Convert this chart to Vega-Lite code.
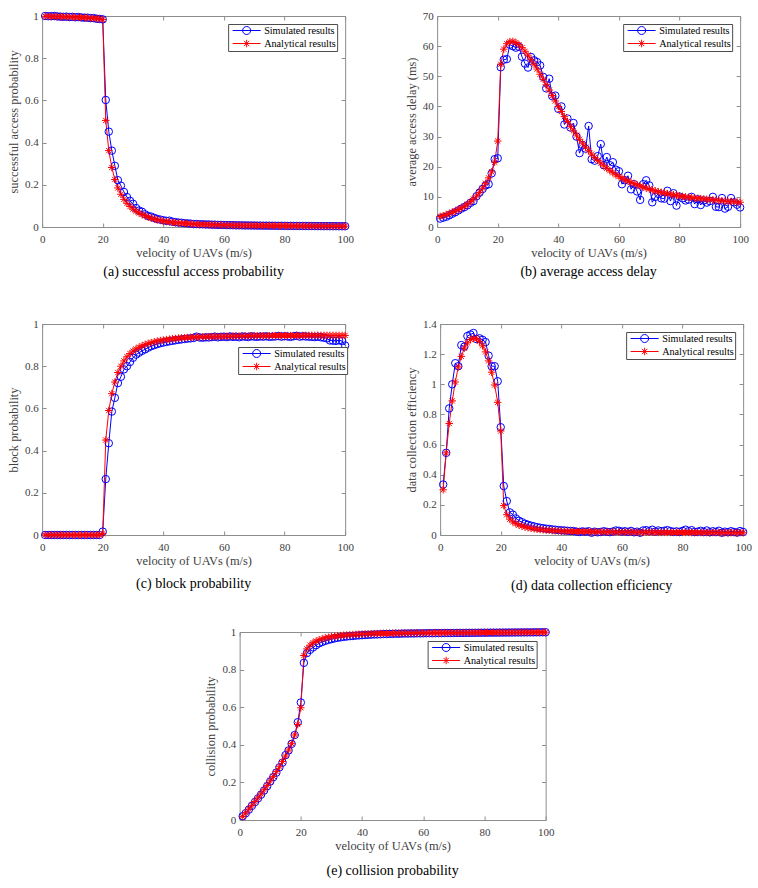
{
"$schema": "https://vega.github.io/schema/vega-lite/v6.json",
"padding": {"left": 6, "top": 9, "right": 5, "bottom": 5},
"config": {
  "font": "Liberation Serif, Times New Roman, Times, DejaVu Serif, serif",
  "view": {"stroke": "#8c8c8c", "strokeWidth": 1},
  "axis": {"grid": false, "domain": false, "tickColor": "#8c8c8c", "tickSize": -4, "tickWidth": 1, "labelFont": "Liberation Serif, Times New Roman, Times, DejaVu Serif, serif", "labelFontSize": 11, "labelColor": "#404040", "titleFont": "Liberation Serif, Times New Roman, Times, DejaVu Serif, serif", "titleFontSize": 12.4, "titleFontWeight": "normal", "titleColor": "#404040", "labelFlush": false, "labelOverlap": false},
  "axisX": {"labelPadding": 10, "titlePadding": 2},
  "axisY": {"labelPadding": 8, "titlePadding": 4},
  "legend": {"labelFont": "Liberation Serif, Times New Roman, Times, DejaVu Serif, serif", "labelFontSize": 10.2, "labelColor": "#000000", "strokeColor": "#4d4d4d", "fillColor": "#ffffff", "padding": 1, "symbolSize": 100, "symbolStrokeWidth": 1, "symbolOpacity": 1, "symbolOffset": 12, "labelOffset": 12, "rowPadding": 0, "cornerRadius": 0},
  "title": {"font": "Liberation Serif, Times New Roman, Times, DejaVu Serif, serif", "fontSize": 14, "fontWeight": "normal", "color": "#000000", "anchor": "middle", "frame": "group", "orient": "bottom"}
},
"datasets": {
"a": [{"v":1,"S":1,"A":0.999},{"v":2,"S":0.999,"A":0.999},{"v":3,"S":0.999,"A":0.998},{"v":4,"S":1,"A":0.998},{"v":5,"S":0.998,"A":0.997},{"v":6,"S":0.997,"A":0.997},{"v":7,"S":0.996,"A":0.996},{"v":8,"S":0.997,"A":0.996},{"v":9,"S":0.995,"A":0.995},{"v":10,"S":0.996,"A":0.995},{"v":11,"S":0.994,"A":0.994},{"v":12,"S":0.995,"A":0.994},{"v":13,"S":0.993,"A":0.993},{"v":14,"S":0.992,"A":0.992},{"v":15,"S":0.992,"A":0.991},{"v":16,"S":0.99,"A":0.99},{"v":17,"S":0.99,"A":0.989},{"v":18,"S":0.987,"A":0.988},{"v":19,"S":0.986,"A":0.986},{"v":20,"S":0.984,"A":0.983},{"v":21,"S":0.602,"A":0.505},{"v":22,"S":0.452,"A":0.362},{"v":23,"S":0.362,"A":0.282},{"v":24,"S":0.29,"A":0.225},{"v":25,"S":0.222,"A":0.185},{"v":26,"S":0.196,"A":0.155},{"v":27,"S":0.166,"A":0.131},{"v":28,"S":0.142,"A":0.112},{"v":29,"S":0.124,"A":0.097},{"v":30,"S":0.11,"A":0.085},{"v":31,"S":0.09,"A":0.075},{"v":32,"S":0.078,"A":0.066},{"v":33,"S":0.072,"A":0.059},{"v":34,"S":0.06,"A":0.053},{"v":35,"S":0.052,"A":0.047},{"v":36,"S":0.049,"A":0.042},{"v":37,"S":0.043,"A":0.038},{"v":38,"S":0.038,"A":0.034},{"v":39,"S":0.035,"A":0.031},{"v":40,"S":0.032,"A":0.028},{"v":41,"S":0.029,"A":0.026},{"v":42,"S":0.03,"A":0.024},{"v":43,"S":0.025,"A":0.022},{"v":44,"S":0.023,"A":0.02},{"v":45,"S":0.021,"A":0.019},{"v":46,"S":0.02,"A":0.018},{"v":47,"S":0.018,"A":0.017},{"v":48,"S":0.017,"A":0.016},{"v":49,"S":0.016,"A":0.015},{"v":50,"S":0.014,"A":0.014},{"v":51,"S":0.014,"A":0.013},{"v":52,"S":0.013,"A":0.0125},{"v":53,"S":0.013,"A":0.012},{"v":54,"S":0.012,"A":0.0115},{"v":55,"S":0.012,"A":0.011},{"v":56,"S":0.011,"A":0.0106},{"v":57,"S":0.011,"A":0.0102},{"v":58,"S":0.01,"A":0.0098},{"v":59,"S":0.01,"A":0.0095},{"v":60,"S":0.0095,"A":0.0092},{"v":61,"S":0.009,"A":0.0089},{"v":62,"S":0.0088,"A":0.0086},{"v":63,"S":0.0085,"A":0.0083},{"v":64,"S":0.008,"A":0.0081},{"v":65,"S":0.008,"A":0.0078},{"v":66,"S":0.0078,"A":0.0076},{"v":67,"S":0.0075,"A":0.0074},{"v":68,"S":0.0074,"A":0.0072},{"v":69,"S":0.007,"A":0.007},{"v":70,"S":0.007,"A":0.0068},{"v":71,"S":0.0067,"A":0.0066},{"v":72,"S":0.0066,"A":0.0065},{"v":73,"S":0.0062,"A":0.0063},{"v":74,"S":0.0063,"A":0.0062},{"v":75,"S":0.006,"A":0.006},{"v":76,"S":0.006,"A":0.0059},{"v":77,"S":0.0058,"A":0.0058},{"v":78,"S":0.0055,"A":0.0056},{"v":79,"S":0.0056,"A":0.0055},{"v":80,"S":0.0054,"A":0.0054},{"v":81,"S":0.0052,"A":0.0053},{"v":82,"S":0.0053,"A":0.0052},{"v":83,"S":0.005,"A":0.0051},{"v":84,"S":0.0051,"A":0.005},{"v":85,"S":0.0048,"A":0.0049},{"v":86,"S":0.0049,"A":0.0048},{"v":87,"S":0.0047,"A":0.0047},{"v":88,"S":0.0045,"A":0.0046},{"v":89,"S":0.0046,"A":0.0045},{"v":90,"S":0.0044,"A":0.0044},{"v":91,"S":0.0042,"A":0.0043},{"v":92,"S":0.0044,"A":0.0043},{"v":93,"S":0.0041,"A":0.0042},{"v":94,"S":0.0042,"A":0.0041},{"v":95,"S":0.004,"A":0.004},{"v":96,"S":0.0039,"A":0.004},{"v":97,"S":0.004,"A":0.0039},{"v":98,"S":0.0037,"A":0.0038},{"v":99,"S":0.0038,"A":0.0038},{"v":100,"S":0.0036,"A":0.0037}],
"b": [{"v":1,"S":2.8,"A":3.5},{"v":2,"S":3.1,"A":3.8},{"v":3,"S":3.4,"A":4.1},{"v":4,"S":3.9,"A":4.5},{"v":5,"S":4.4,"A":4.9},{"v":6,"S":4.9,"A":5.3},{"v":7,"S":5.5,"A":5.8},{"v":8,"S":6.1,"A":6.3},{"v":9,"S":6.6,"A":6.9},{"v":10,"S":7.2,"A":7.6},{"v":11,"S":8.0,"A":8.4},{"v":12,"S":8.6,"A":9.3},{"v":13,"S":10.2,"A":10.3},{"v":14,"S":11.4,"A":11.5},{"v":15,"S":12.6,"A":12.9},{"v":16,"S":13.8,"A":14.5},{"v":17,"S":14.2,"A":16.3},{"v":18,"S":17.8,"A":18.3},{"v":19,"S":22.5,"A":21.5},{"v":20,"S":22.8,"A":28.5},{"v":21,"S":53,"A":54},{"v":22,"S":55.5,"A":59},{"v":23,"S":55.7,"A":60.8},{"v":24,"S":60.5,"A":61.5},{"v":25,"S":60,"A":61.6},{"v":26,"S":59.5,"A":61.2},{"v":27,"S":59.8,"A":60.5},{"v":28,"S":56.5,"A":59.5},{"v":29,"S":54.2,"A":58.3},{"v":30,"S":52.9,"A":57},{"v":31,"S":56.4,"A":55.5},{"v":32,"S":55.3,"A":54},{"v":33,"S":54.7,"A":52.4},{"v":34,"S":53.6,"A":50.7},{"v":35,"S":49.8,"A":49},{"v":36,"S":46,"A":47.2},{"v":37,"S":49.2,"A":45.4},{"v":38,"S":43.4,"A":43.6},{"v":39,"S":43.6,"A":41.8},{"v":40,"S":39.2,"A":40},{"v":41,"S":40,"A":38.3},{"v":42,"S":34,"A":36.6},{"v":43,"S":36,"A":35},{"v":44,"S":33,"A":33.4},{"v":45,"S":34.5,"A":31.9},{"v":46,"S":30,"A":30.5},{"v":47,"S":24.5,"A":29.1},{"v":48,"S":27.2,"A":27.8},{"v":49,"S":26,"A":26.5},{"v":50,"S":33.5,"A":25.3},{"v":51,"S":22.5,"A":24.2},{"v":52,"S":22,"A":23.1},{"v":53,"S":23.5,"A":22.1},{"v":54,"S":27.5,"A":21.2},{"v":55,"S":20.5,"A":20.3},{"v":56,"S":23.2,"A":19.5},{"v":57,"S":20.5,"A":18.7},{"v":58,"S":21.5,"A":18},{"v":59,"S":19,"A":17.3},{"v":60,"S":18.5,"A":16.7},{"v":61,"S":14.2,"A":16.2},{"v":62,"S":15.5,"A":15.7},{"v":63,"S":17,"A":15.2},{"v":64,"S":12.5,"A":14.8},{"v":65,"S":14.2,"A":14.4},{"v":66,"S":11.8,"A":14},{"v":67,"S":9,"A":13.6},{"v":68,"S":14.2,"A":13.2},{"v":69,"S":15.5,"A":12.9},{"v":70,"S":13.8,"A":12.6},{"v":71,"S":8.2,"A":12.3},{"v":72,"S":10,"A":12},{"v":73,"S":11,"A":11.7},{"v":74,"S":9.5,"A":11.5},{"v":75,"S":9.4,"A":11.3},{"v":76,"S":12,"A":11.1},{"v":77,"S":8.6,"A":10.9},{"v":78,"S":11.2,"A":10.7},{"v":79,"S":7.1,"A":10.5},{"v":80,"S":10.1,"A":10.3},{"v":81,"S":9.5,"A":10.15},{"v":82,"S":8.8,"A":10},{"v":83,"S":9.1,"A":9.85},{"v":84,"S":10,"A":9.7},{"v":85,"S":7.6,"A":9.6},{"v":86,"S":9.2,"A":9.5},{"v":87,"S":7.3,"A":9.4},{"v":88,"S":8.8,"A":9.3},{"v":89,"S":8.1,"A":9.2},{"v":90,"S":8.6,"A":9.1},{"v":91,"S":10,"A":9},{"v":92,"S":6.7,"A":8.9},{"v":93,"S":6.6,"A":8.8},{"v":94,"S":9.6,"A":8.7},{"v":95,"S":6.1,"A":8.6},{"v":96,"S":6.7,"A":8.5},{"v":97,"S":9.6,"A":8.45},{"v":98,"S":8.2,"A":8.4},{"v":99,"S":7.4,"A":8.3},{"v":100,"S":6.5,"A":8.2}],
"c": [{"v":1,"S":0,"A":0},{"v":2,"S":0,"A":0},{"v":3,"S":0,"A":0},{"v":4,"S":0,"A":0},{"v":5,"S":0,"A":0},{"v":6,"S":0,"A":0},{"v":7,"S":0,"A":0},{"v":8,"S":0,"A":0},{"v":9,"S":0,"A":0},{"v":10,"S":0,"A":0},{"v":11,"S":0,"A":0},{"v":12,"S":0,"A":0},{"v":13,"S":0,"A":0},{"v":14,"S":0,"A":0},{"v":15,"S":0,"A":0},{"v":16,"S":0,"A":0},{"v":17,"S":0,"A":0},{"v":18,"S":0,"A":0},{"v":19,"S":0,"A":0.001},{"v":20,"S":0.016,"A":0.006},{"v":21,"S":0.265,"A":0.45},{"v":22,"S":0.435,"A":0.59},{"v":23,"S":0.585,"A":0.67},{"v":24,"S":0.65,"A":0.725},{"v":25,"S":0.72,"A":0.77},{"v":26,"S":0.75,"A":0.8},{"v":27,"S":0.785,"A":0.825},{"v":28,"S":0.8,"A":0.845},{"v":29,"S":0.82,"A":0.86},{"v":30,"S":0.84,"A":0.872},{"v":31,"S":0.855,"A":0.882},{"v":32,"S":0.864,"A":0.89},{"v":33,"S":0.873,"A":0.897},{"v":34,"S":0.88,"A":0.903},{"v":35,"S":0.888,"A":0.908},{"v":36,"S":0.895,"A":0.912},{"v":37,"S":0.9,"A":0.916},{"v":38,"S":0.905,"A":0.919},{"v":39,"S":0.909,"A":0.922},{"v":40,"S":0.912,"A":0.924},{"v":41,"S":0.915,"A":0.926},{"v":42,"S":0.918,"A":0.928},{"v":43,"S":0.92,"A":0.93},{"v":44,"S":0.923,"A":0.931},{"v":45,"S":0.925,"A":0.933},{"v":46,"S":0.927,"A":0.934},{"v":47,"S":0.929,"A":0.935},{"v":48,"S":0.931,"A":0.936},{"v":49,"S":0.932,"A":0.937},{"v":50,"S":0.934,"A":0.938},{"v":51,"S":0.94,"A":0.938},{"v":52,"S":0.936,"A":0.939},{"v":53,"S":0.935,"A":0.939},{"v":54,"S":0.937,"A":0.94},{"v":55,"S":0.936,"A":0.94},{"v":56,"S":0.938,"A":0.94},{"v":57,"S":0.94,"A":0.941},{"v":58,"S":0.937,"A":0.941},{"v":59,"S":0.939,"A":0.941},{"v":60,"S":0.94,"A":0.941},{"v":61,"S":0.938,"A":0.942},{"v":62,"S":0.941,"A":0.942},{"v":63,"S":0.939,"A":0.942},{"v":64,"S":0.94,"A":0.943},{"v":65,"S":0.937,"A":0.943},{"v":66,"S":0.941,"A":0.943},{"v":67,"S":0.94,"A":0.943},{"v":68,"S":0.938,"A":0.943},{"v":69,"S":0.942,"A":0.944},{"v":70,"S":0.94,"A":0.944},{"v":71,"S":0.939,"A":0.944},{"v":72,"S":0.941,"A":0.944},{"v":73,"S":0.94,"A":0.944},{"v":74,"S":0.942,"A":0.944},{"v":75,"S":0.939,"A":0.944},{"v":76,"S":0.94,"A":0.945},{"v":77,"S":0.941,"A":0.945},{"v":78,"S":0.943,"A":0.945},{"v":79,"S":0.94,"A":0.945},{"v":80,"S":0.942,"A":0.945},{"v":81,"S":0.941,"A":0.945},{"v":82,"S":0.939,"A":0.945},{"v":83,"S":0.942,"A":0.945},{"v":84,"S":0.944,"A":0.945},{"v":85,"S":0.94,"A":0.945},{"v":86,"S":0.942,"A":0.946},{"v":87,"S":0.941,"A":0.946},{"v":88,"S":0.94,"A":0.946},{"v":89,"S":0.939,"A":0.946},{"v":90,"S":0.938,"A":0.946},{"v":91,"S":0.94,"A":0.946},{"v":92,"S":0.937,"A":0.946},{"v":93,"S":0.935,"A":0.946},{"v":94,"S":0.932,"A":0.946},{"v":95,"S":0.922,"A":0.946},{"v":96,"S":0.921,"A":0.946},{"v":97,"S":0.92,"A":0.946},{"v":98,"S":0.923,"A":0.946},{"v":99,"S":0.919,"A":0.946},{"v":100,"S":0.898,"A":0.946}],
"d": [{"v":1,"S":0.335,"A":0.3},{"v":2,"S":0.545,"A":0.545},{"v":3,"S":0.84,"A":0.74},{"v":4,"S":1.0,"A":0.89},{"v":5,"S":1.14,"A":1.015},{"v":6,"S":1.12,"A":1.115},{"v":7,"S":1.26,"A":1.185},{"v":8,"S":1.25,"A":1.24},{"v":9,"S":1.32,"A":1.275},{"v":10,"S":1.33,"A":1.297},{"v":11,"S":1.34,"A":1.305},{"v":12,"S":1.3,"A":1.302},{"v":13,"S":1.305,"A":1.285},{"v":14,"S":1.295,"A":1.255},{"v":15,"S":1.28,"A":1.215},{"v":16,"S":1.19,"A":1.155},{"v":17,"S":1.12,"A":1.08},{"v":18,"S":1.12,"A":0.995},{"v":19,"S":1.02,"A":0.88},{"v":20,"S":0.715,"A":0.69},{"v":21,"S":0.325,"A":0.195},{"v":22,"S":0.225,"A":0.135},{"v":23,"S":0.15,"A":0.105},{"v":24,"S":0.135,"A":0.087},{"v":25,"S":0.11,"A":0.075},{"v":26,"S":0.095,"A":0.066},{"v":27,"S":0.085,"A":0.059},{"v":28,"S":0.075,"A":0.053},{"v":29,"S":0.068,"A":0.048},{"v":30,"S":0.062,"A":0.044},{"v":31,"S":0.057,"A":0.041},{"v":32,"S":0.052,"A":0.038},{"v":33,"S":0.048,"A":0.036},{"v":34,"S":0.045,"A":0.034},{"v":35,"S":0.042,"A":0.032},{"v":36,"S":0.04,"A":0.031},{"v":37,"S":0.037,"A":0.029},{"v":38,"S":0.035,"A":0.028},{"v":39,"S":0.033,"A":0.027},{"v":40,"S":0.031,"A":0.026},{"v":41,"S":0.03,"A":0.025},{"v":42,"S":0.028,"A":0.025},{"v":43,"S":0.027,"A":0.024},{"v":44,"S":0.026,"A":0.024},{"v":45,"S":0.022,"A":0.023},{"v":46,"S":0.02,"A":0.023},{"v":47,"S":0.024,"A":0.022},{"v":48,"S":0.021,"A":0.022},{"v":49,"S":0.025,"A":0.022},{"v":50,"S":0.015,"A":0.021},{"v":51,"S":0.022,"A":0.021},{"v":52,"S":0.018,"A":0.021},{"v":53,"S":0.02,"A":0.02},{"v":54,"S":0.025,"A":0.02},{"v":55,"S":0.021,"A":0.02},{"v":56,"S":0.019,"A":0.02},{"v":57,"S":0.023,"A":0.02},{"v":58,"S":0.03,"A":0.019},{"v":59,"S":0.028,"A":0.019},{"v":60,"S":0.022,"A":0.019},{"v":61,"S":0.025,"A":0.019},{"v":62,"S":0.02,"A":0.019},{"v":63,"S":0.027,"A":0.019},{"v":64,"S":0.018,"A":0.018},{"v":65,"S":0.022,"A":0.018},{"v":66,"S":0.015,"A":0.018},{"v":67,"S":0.03,"A":0.018},{"v":68,"S":0.032,"A":0.018},{"v":69,"S":0.025,"A":0.018},{"v":70,"S":0.035,"A":0.018},{"v":71,"S":0.022,"A":0.018},{"v":72,"S":0.03,"A":0.017},{"v":73,"S":0.025,"A":0.017},{"v":74,"S":0.028,"A":0.017},{"v":75,"S":0.032,"A":0.017},{"v":76,"S":0.026,"A":0.017},{"v":77,"S":0.021,"A":0.017},{"v":78,"S":0.024,"A":0.017},{"v":79,"S":0.02,"A":0.017},{"v":80,"S":0.027,"A":0.017},{"v":81,"S":0.035,"A":0.017},{"v":82,"S":0.025,"A":0.017},{"v":83,"S":0.032,"A":0.016},{"v":84,"S":0.02,"A":0.016},{"v":85,"S":0.022,"A":0.016},{"v":86,"S":0.028,"A":0.016},{"v":87,"S":0.02,"A":0.016},{"v":88,"S":0.03,"A":0.016},{"v":89,"S":0.018,"A":0.016},{"v":90,"S":0.025,"A":0.016},{"v":91,"S":0.02,"A":0.016},{"v":92,"S":0.028,"A":0.016},{"v":93,"S":0.015,"A":0.015},{"v":94,"S":0.022,"A":0.015},{"v":95,"S":0.018,"A":0.015},{"v":96,"S":0.025,"A":0.015},{"v":97,"S":0.02,"A":0.015},{"v":98,"S":0.016,"A":0.015},{"v":99,"S":0.026,"A":0.015},{"v":100,"S":0.02,"A":0.015}],
"e": [{"v":1,"S":0.02,"A":0.018},{"v":2,"S":0.036,"A":0.038},{"v":3,"S":0.055,"A":0.058},{"v":4,"S":0.075,"A":0.078},{"v":5,"S":0.095,"A":0.098},{"v":6,"S":0.115,"A":0.118},{"v":7,"S":0.135,"A":0.139},{"v":8,"S":0.157,"A":0.161},{"v":9,"S":0.18,"A":0.184},{"v":10,"S":0.205,"A":0.208},{"v":11,"S":0.228,"A":0.232},{"v":12,"S":0.252,"A":0.257},{"v":13,"S":0.28,"A":0.283},{"v":14,"S":0.305,"A":0.311},{"v":15,"S":0.345,"A":0.34},{"v":16,"S":0.37,"A":0.372},{"v":17,"S":0.405,"A":0.406},{"v":18,"S":0.452,"A":0.452},{"v":19,"S":0.52,"A":0.508},{"v":20,"S":0.625,"A":0.597},{"v":21,"S":0.836,"A":0.875},{"v":22,"S":0.888,"A":0.91},{"v":23,"S":0.905,"A":0.93},{"v":24,"S":0.918,"A":0.943},{"v":25,"S":0.93,"A":0.952},{"v":26,"S":0.94,"A":0.959},{"v":27,"S":0.947,"A":0.964},{"v":28,"S":0.953,"A":0.968},{"v":29,"S":0.958,"A":0.972},{"v":30,"S":0.962,"A":0.975},{"v":31,"S":0.966,"A":0.977},{"v":32,"S":0.969,"A":0.979},{"v":33,"S":0.972,"A":0.981},{"v":34,"S":0.974,"A":0.983},{"v":35,"S":0.976,"A":0.984},{"v":36,"S":0.978,"A":0.985},{"v":37,"S":0.979,"A":0.986},{"v":38,"S":0.981,"A":0.987},{"v":39,"S":0.982,"A":0.988},{"v":40,"S":0.983,"A":0.989},{"v":41,"S":0.984,"A":0.9895},{"v":42,"S":0.985,"A":0.99},{"v":43,"S":0.986,"A":0.9905},{"v":44,"S":0.987,"A":0.991},{"v":45,"S":0.987,"A":0.9915},{"v":46,"S":0.988,"A":0.992},{"v":47,"S":0.989,"A":0.9922},{"v":48,"S":0.989,"A":0.9925},{"v":49,"S":0.99,"A":0.9928},{"v":50,"S":0.99,"A":0.993},{"v":51,"S":0.991,"A":0.9933},{"v":52,"S":0.9905,"A":0.9935},{"v":53,"S":0.9915,"A":0.9938},{"v":54,"S":0.992,"A":0.994},{"v":55,"S":0.9918,"A":0.9942},{"v":56,"S":0.9925,"A":0.9944},{"v":57,"S":0.9922,"A":0.9946},{"v":58,"S":0.993,"A":0.9947},{"v":59,"S":0.9928,"A":0.9948},{"v":60,"S":0.9932,"A":0.995},{"v":61,"S":0.9935,"A":0.9951},{"v":62,"S":0.9938,"A":0.9952},{"v":63,"S":0.9936,"A":0.9953},{"v":64,"S":0.994,"A":0.9954},{"v":65,"S":0.9942,"A":0.9955},{"v":66,"S":0.9941,"A":0.9956},{"v":67,"S":0.9945,"A":0.9957},{"v":68,"S":0.9946,"A":0.9958},{"v":69,"S":0.9944,"A":0.9959},{"v":70,"S":0.9948,"A":0.996},{"v":71,"S":0.995,"A":0.9961},{"v":72,"S":0.9952,"A":0.9962},{"v":73,"S":0.9951,"A":0.9963},{"v":74,"S":0.9954,"A":0.9964},{"v":75,"S":0.9955,"A":0.9965},{"v":76,"S":0.9957,"A":0.9966},{"v":77,"S":0.9956,"A":0.9967},{"v":78,"S":0.9959,"A":0.9968},{"v":79,"S":0.996,"A":0.9969},{"v":80,"S":0.9962,"A":0.997},{"v":81,"S":0.9963,"A":0.9971},{"v":82,"S":0.9964,"A":0.9972},{"v":83,"S":0.9966,"A":0.9973},{"v":84,"S":0.9965,"A":0.9974},{"v":85,"S":0.9968,"A":0.9975},{"v":86,"S":0.9969,"A":0.9976},{"v":87,"S":0.997,"A":0.9977},{"v":88,"S":0.9972,"A":0.9978},{"v":89,"S":0.9973,"A":0.9979},{"v":90,"S":0.9974,"A":0.998},{"v":91,"S":0.9976,"A":0.9981},{"v":92,"S":0.9977,"A":0.9982},{"v":93,"S":0.9978,"A":0.9983},{"v":94,"S":0.998,"A":0.9984},{"v":95,"S":0.9981,"A":0.9985},{"v":96,"S":0.9982,"A":0.9986},{"v":97,"S":0.9984,"A":0.9987},{"v":98,"S":0.9985,"A":0.9988},{"v":99,"S":0.9986,"A":0.9989},{"v":100,"S":0.9988,"A":0.999}]
},
"vconcat": [
 {"vconcat": [
 {"hconcat": [
  {"width": 303, "height": 211, "data": {"name": "a"},
   "transform": [{"fold": ["S", "A"], "as": ["series", "val"]}],
   "title": {"text": "(a) successful access probability", "offset": 7},
   "resolve": {"scale": {"color": "independent", "shape": "independent"}, "legend": {"color": "independent", "shape": "independent"}},
   "layer": [
    {"mark": {"type": "line", "strokeWidth": 1},
     "encoding": {
      "x": {"field": "v", "type": "quantitative", "scale": {"domain": [0, 100], "nice": false, "zero": false}, "axis": {"orient": "bottom", "title": "velocity of UAVs (m/s)", "values": [0, 20, 40, 60, 80, 100]}},
      "y": {"field": "val", "type": "quantitative", "scale": {"domain": [0, 1], "nice": false}, "axis": {"orient": "left", "title": "successful access probability", "values": [0, 0.2, 0.4, 0.6, 0.8, 1], "format": "~f"}},
      "color": {"field": "series", "type": "nominal", "scale": {"domain": ["S", "A"], "range": ["#0000ff", "#ff0000"]}, "legend": null}}},
    {"mark": {"type": "point", "filled": false, "size": 56, "strokeWidth": 1, "opacity": 1},
     "encoding": {
      "x": {"field": "v", "type": "quantitative", "axis": null},
      "y": {"field": "val", "type": "quantitative", "axis": null},
      "color": {"field": "series", "type": "nominal", "scale": {"domain": ["S", "A"], "range": ["#0000ff", "#ff0000"]}, "legend": null},
      "shape": {"field": "series", "type": "nominal", "scale": {"domain": ["S", "A"], "range": ["circle", "M-1,0L1,0M0,-1L0,1M-0.7,-0.7L0.7,0.7M-0.7,0.7L0.7,-0.7"]}, "legend": null},
      "order": {"field": "series", "sort": "descending"}}},
    {"mark": {"type": "point", "opacity": 0},
     "encoding": {
      "x": {"field": "v", "type": "quantitative", "axis": {"orient": "top", "title": null, "labels": false, "values": [0, 20, 40, 60, 80, 100]}},
      "y": {"field": "val", "type": "quantitative", "axis": {"orient": "right", "title": null, "labels": false, "values": [0, 0.2, 0.4, 0.6, 0.8, 1]}}}},
    {"mark": {"type": "point", "filled": false, "opacity": 0},
     "encoding": {
      "x": {"field": "v", "type": "quantitative", "axis": null},
      "y": {"field": "val", "type": "quantitative", "axis": null},
      "color": {"field": "series", "type": "nominal", "scale": {"domain": ["S", "A"], "range": ["#0000ff", "#ff0000"]}, "legend": {"title": null, "orient": "top-right", "offset": 8, "labelExpr": "datum.value === 'S' ? 'Simulated results' : 'Analytical results'"}},
      "shape": {"field": "series", "type": "nominal", "scale": {"domain": ["S", "A"], "range": ["M-2.8,0L2.8,0M-0.8,0A0.8,0.8 0 1,1 0.8,0A0.8,0.8 0 1,1 -0.8,0", "M-2.8,0L2.8,0M0,-0.75L0,0.75M-0.53,-0.53L0.53,0.53M-0.53,0.53L0.53,-0.53"]}, "legend": {"title": null, "orient": "top-right", "offset": 8, "labelExpr": "datum.value === 'S' ? 'Simulated results' : 'Analytical results'"}}}}
   ]},
  {"width": 303, "height": 211, "data": {"name": "b"},
   "transform": [{"fold": ["S", "A"], "as": ["series", "val"]}],
   "title": {"text": "(b) average access delay", "offset": 7},
   "resolve": {"scale": {"color": "independent", "shape": "independent"}, "legend": {"color": "independent", "shape": "independent"}},
   "layer": [
    {"mark": {"type": "line", "strokeWidth": 1},
     "encoding": {
      "x": {"field": "v", "type": "quantitative", "scale": {"domain": [0, 100], "nice": false, "zero": false}, "axis": {"orient": "bottom", "title": "velocity of UAVs (m/s)", "values": [0, 20, 40, 60, 80, 100]}},
      "y": {"field": "val", "type": "quantitative", "scale": {"domain": [0, 70], "nice": false}, "axis": {"orient": "left", "title": "average access delay (ms)", "values": [0, 10, 20, 30, 40, 50, 60, 70], "format": "~f"}},
      "color": {"field": "series", "type": "nominal", "scale": {"domain": ["S", "A"], "range": ["#0000ff", "#ff0000"]}, "legend": null}}},
    {"mark": {"type": "point", "filled": false, "size": 56, "strokeWidth": 1, "opacity": 1},
     "encoding": {
      "x": {"field": "v", "type": "quantitative", "axis": null},
      "y": {"field": "val", "type": "quantitative", "axis": null},
      "color": {"field": "series", "type": "nominal", "scale": {"domain": ["S", "A"], "range": ["#0000ff", "#ff0000"]}, "legend": null},
      "shape": {"field": "series", "type": "nominal", "scale": {"domain": ["S", "A"], "range": ["circle", "M-1,0L1,0M0,-1L0,1M-0.7,-0.7L0.7,0.7M-0.7,0.7L0.7,-0.7"]}, "legend": null},
      "order": {"field": "series", "sort": "descending"}}},
    {"mark": {"type": "point", "opacity": 0},
     "encoding": {
      "x": {"field": "v", "type": "quantitative", "axis": {"orient": "top", "title": null, "labels": false, "values": [0, 20, 40, 60, 80, 100]}},
      "y": {"field": "val", "type": "quantitative", "axis": {"orient": "right", "title": null, "labels": false, "values": [0, 10, 20, 30, 40, 50, 60, 70]}}}},
    {"mark": {"type": "point", "filled": false, "opacity": 0},
     "encoding": {
      "x": {"field": "v", "type": "quantitative", "axis": null},
      "y": {"field": "val", "type": "quantitative", "axis": null},
      "color": {"field": "series", "type": "nominal", "scale": {"domain": ["S", "A"], "range": ["#0000ff", "#ff0000"]}, "legend": {"title": null, "orient": "top-right", "offset": 8, "labelExpr": "datum.value === 'S' ? 'Simulated results' : 'Analytical results'"}},
      "shape": {"field": "series", "type": "nominal", "scale": {"domain": ["S", "A"], "range": ["M-2.8,0L2.8,0M-0.8,0A0.8,0.8 0 1,1 0.8,0A0.8,0.8 0 1,1 -0.8,0", "M-2.8,0L2.8,0M0,-0.75L0,0.75M-0.53,-0.53L0.53,0.53M-0.53,0.53L0.53,-0.53"]}, "legend": {"title": null, "orient": "top-right", "offset": 8, "labelExpr": "datum.value === 'S' ? 'Simulated results' : 'Analytical results'"}}}}
   ]}
 ], "spacing": 50,
 "resolve": {"scale": {"color": "independent", "shape": "independent"}, "legend": {"color": "independent", "shape": "independent"}}},
 {"hconcat": [
  {"width": 303, "height": 211, "data": {"name": "c"},
   "transform": [{"fold": ["S", "A"], "as": ["series", "val"]}],
   "title": {"text": "(c) block probability", "offset": 11},
   "resolve": {"scale": {"color": "independent", "shape": "independent"}, "legend": {"color": "independent", "shape": "independent"}},
   "layer": [
    {"mark": {"type": "line", "strokeWidth": 1},
     "encoding": {
      "x": {"field": "v", "type": "quantitative", "scale": {"domain": [0, 100], "nice": false, "zero": false}, "axis": {"orient": "bottom", "title": "velocity of UAVs (m/s)", "values": [0, 20, 40, 60, 80, 100]}},
      "y": {"field": "val", "type": "quantitative", "scale": {"domain": [0, 1], "nice": false}, "axis": {"orient": "left", "title": "block probability", "values": [0, 0.2, 0.4, 0.6, 0.8, 1], "format": "~f"}},
      "color": {"field": "series", "type": "nominal", "scale": {"domain": ["S", "A"], "range": ["#0000ff", "#ff0000"]}, "legend": null}}},
    {"mark": {"type": "point", "filled": false, "size": 56, "strokeWidth": 1, "opacity": 1},
     "encoding": {
      "x": {"field": "v", "type": "quantitative", "axis": null},
      "y": {"field": "val", "type": "quantitative", "axis": null},
      "color": {"field": "series", "type": "nominal", "scale": {"domain": ["S", "A"], "range": ["#0000ff", "#ff0000"]}, "legend": null},
      "shape": {"field": "series", "type": "nominal", "scale": {"domain": ["S", "A"], "range": ["circle", "M-1,0L1,0M0,-1L0,1M-0.7,-0.7L0.7,0.7M-0.7,0.7L0.7,-0.7"]}, "legend": null},
      "order": {"field": "series", "sort": "descending"}}},
    {"mark": {"type": "point", "opacity": 0},
     "encoding": {
      "x": {"field": "v", "type": "quantitative", "axis": {"orient": "top", "title": null, "labels": false, "values": [0, 20, 40, 60, 80, 100]}},
      "y": {"field": "val", "type": "quantitative", "axis": {"orient": "right", "title": null, "labels": false, "values": [0, 0.2, 0.4, 0.6, 0.8, 1]}}}},
    {"mark": {"type": "point", "filled": false, "opacity": 0},
     "encoding": {
      "x": {"field": "v", "type": "quantitative", "axis": null},
      "y": {"field": "val", "type": "quantitative", "axis": null},
      "color": {"field": "series", "type": "nominal", "scale": {"domain": ["S", "A"], "range": ["#0000ff", "#ff0000"]}, "legend": {"title": null, "orient": "none", "legendX": 196, "legendY": 23, "labelExpr": "datum.value === 'S' ? 'Simulated results' : 'Analytical results'"}},
      "shape": {"field": "series", "type": "nominal", "scale": {"domain": ["S", "A"], "range": ["M-2.8,0L2.8,0M-0.8,0A0.8,0.8 0 1,1 0.8,0A0.8,0.8 0 1,1 -0.8,0", "M-2.8,0L2.8,0M0,-0.75L0,0.75M-0.53,-0.53L0.53,0.53M-0.53,0.53L0.53,-0.53"]}, "legend": {"title": null, "orient": "none", "legendX": 196, "legendY": 23, "labelExpr": "datum.value === 'S' ? 'Simulated results' : 'Analytical results'"}}}}
   ]},
  {"width": 303, "height": 211, "data": {"name": "d"},
   "transform": [{"fold": ["S", "A"], "as": ["series", "val"]}],
   "title": {"text": "(d) data collection efficiency", "offset": 13},
   "resolve": {"scale": {"color": "independent", "shape": "independent"}, "legend": {"color": "independent", "shape": "independent"}},
   "layer": [
    {"mark": {"type": "line", "strokeWidth": 1},
     "encoding": {
      "x": {"field": "v", "type": "quantitative", "scale": {"domain": [0, 100], "nice": false, "zero": false}, "axis": {"orient": "bottom", "title": "velocity of UAVs (m/s)", "values": [0, 20, 40, 60, 80, 100]}},
      "y": {"field": "val", "type": "quantitative", "scale": {"domain": [0, 1.4], "nice": false}, "axis": {"orient": "left", "title": "data collection efficiency", "values": [0, 0.2, 0.4, 0.6, 0.8, 1, 1.2, 1.4], "format": "~f"}},
      "color": {"field": "series", "type": "nominal", "scale": {"domain": ["S", "A"], "range": ["#0000ff", "#ff0000"]}, "legend": null}}},
    {"mark": {"type": "point", "filled": false, "size": 56, "strokeWidth": 1, "opacity": 1},
     "encoding": {
      "x": {"field": "v", "type": "quantitative", "axis": null},
      "y": {"field": "val", "type": "quantitative", "axis": null},
      "color": {"field": "series", "type": "nominal", "scale": {"domain": ["S", "A"], "range": ["#0000ff", "#ff0000"]}, "legend": null},
      "shape": {"field": "series", "type": "nominal", "scale": {"domain": ["S", "A"], "range": ["circle", "M-1,0L1,0M0,-1L0,1M-0.7,-0.7L0.7,0.7M-0.7,0.7L0.7,-0.7"]}, "legend": null},
      "order": {"field": "series", "sort": "descending"}}},
    {"mark": {"type": "point", "opacity": 0},
     "encoding": {
      "x": {"field": "v", "type": "quantitative", "axis": {"orient": "top", "title": null, "labels": false, "values": [0, 20, 40, 60, 80, 100]}},
      "y": {"field": "val", "type": "quantitative", "axis": {"orient": "right", "title": null, "labels": false, "values": [0, 0.2, 0.4, 0.6, 0.8, 1, 1.2, 1.4]}}}},
    {"mark": {"type": "point", "filled": false, "opacity": 0},
     "encoding": {
      "x": {"field": "v", "type": "quantitative", "axis": null},
      "y": {"field": "val", "type": "quantitative", "axis": null},
      "color": {"field": "series", "type": "nominal", "scale": {"domain": ["S", "A"], "range": ["#0000ff", "#ff0000"]}, "legend": {"title": null, "orient": "top-right", "offset": 8, "labelExpr": "datum.value === 'S' ? 'Simulated results' : 'Analytical results'"}},
      "shape": {"field": "series", "type": "nominal", "scale": {"domain": ["S", "A"], "range": ["M-2.8,0L2.8,0M-0.8,0A0.8,0.8 0 1,1 0.8,0A0.8,0.8 0 1,1 -0.8,0", "M-2.8,0L2.8,0M0,-0.75L0,0.75M-0.53,-0.53L0.53,0.53M-0.53,0.53L0.53,-0.53"]}, "legend": {"title": null, "orient": "top-right", "offset": 8, "labelExpr": "datum.value === 'S' ? 'Simulated results' : 'Analytical results'"}}}}
   ]}
 ], "spacing": 50,
 "resolve": {"scale": {"color": "independent", "shape": "independent"}, "legend": {"color": "independent", "shape": "independent"}}}
 ], "spacing": 37,
 "resolve": {"scale": {"color": "independent", "shape": "independent"}, "legend": {"color": "independent", "shape": "independent"}}},
 {"width": 306, "height": 188, "data": {"name": "e"},
   "transform": [{"fold": ["S", "A"], "as": ["series", "val"]}],
   "title": {"text": "(e) collision probability", "offset": 13},
   "resolve": {"scale": {"color": "independent", "shape": "independent"}, "legend": {"color": "independent", "shape": "independent"}},
   "layer": [
    {"mark": {"type": "line", "strokeWidth": 1},
     "encoding": {
      "x": {"field": "v", "type": "quantitative", "scale": {"domain": [0, 100], "nice": false, "zero": false}, "axis": {"orient": "bottom", "title": "velocity of UAVs (m/s)", "values": [0, 20, 40, 60, 80, 100]}},
      "y": {"field": "val", "type": "quantitative", "scale": {"domain": [0, 1], "nice": false}, "axis": {"orient": "left", "title": "collision probability", "values": [0, 0.2, 0.4, 0.6, 0.8, 1], "format": "~f"}},
      "color": {"field": "series", "type": "nominal", "scale": {"domain": ["S", "A"], "range": ["#0000ff", "#ff0000"]}, "legend": null}}},
    {"mark": {"type": "point", "filled": false, "size": 56, "strokeWidth": 1, "opacity": 1},
     "encoding": {
      "x": {"field": "v", "type": "quantitative", "axis": null},
      "y": {"field": "val", "type": "quantitative", "axis": null},
      "color": {"field": "series", "type": "nominal", "scale": {"domain": ["S", "A"], "range": ["#0000ff", "#ff0000"]}, "legend": null},
      "shape": {"field": "series", "type": "nominal", "scale": {"domain": ["S", "A"], "range": ["circle", "M-1,0L1,0M0,-1L0,1M-0.7,-0.7L0.7,0.7M-0.7,0.7L0.7,-0.7"]}, "legend": null},
      "order": {"field": "series", "sort": "descending"}}},
    {"mark": {"type": "point", "opacity": 0},
     "encoding": {
      "x": {"field": "v", "type": "quantitative", "axis": {"orient": "top", "title": null, "labels": false, "values": [0, 20, 40, 60, 80, 100]}},
      "y": {"field": "val", "type": "quantitative", "axis": {"orient": "right", "title": null, "labels": false, "values": [0, 0.2, 0.4, 0.6, 0.8, 1]}}}},
    {"mark": {"type": "point", "filled": false, "opacity": 0},
     "encoding": {
      "x": {"field": "v", "type": "quantitative", "axis": null},
      "y": {"field": "val", "type": "quantitative", "axis": null},
      "color": {"field": "series", "type": "nominal", "scale": {"domain": ["S", "A"], "range": ["#0000ff", "#ff0000"]}, "legend": {"title": null, "orient": "top-right", "offset": 9, "labelExpr": "datum.value === 'S' ? 'Simulated results' : 'Analytical results'"}},
      "shape": {"field": "series", "type": "nominal", "scale": {"domain": ["S", "A"], "range": ["M-2.8,0L2.8,0M-0.8,0A0.8,0.8 0 1,1 0.8,0A0.8,0.8 0 1,1 -0.8,0", "M-2.8,0L2.8,0M0,-0.75L0,0.75M-0.53,-0.53L0.53,0.53M-0.53,0.53L0.53,-0.53"]}, "legend": {"title": null, "orient": "top-right", "offset": 9, "labelExpr": "datum.value === 'S' ? 'Simulated results' : 'Analytical results'"}}}}
   ]}
],
"spacing": 31, "center": true,
"resolve": {"scale": {"color": "independent", "shape": "independent"}, "legend": {"color": "independent", "shape": "independent"}}
}
